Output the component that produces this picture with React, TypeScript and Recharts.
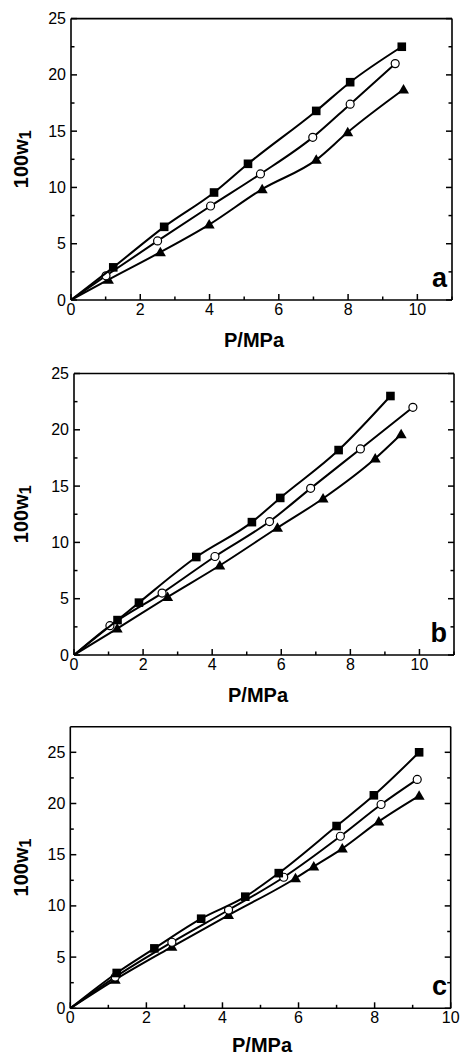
import { ScatterChart, Scatter, XAxis, YAxis } from 'recharts';

const FONT = '"Liberation Sans", Arial, Helvetica, sans-serif';
const INK = '#000';

// panel a
const aSquareP = [0, 1.22, 2.69, 4.13, 5.11, 7.08, 8.06, 9.55];
const aSquareW = [0, 2.9, 6.5, 9.55, 12.1, 16.8, 19.35, 22.5];
const aCircleP = [0, 1.01, 2.5, 4.03, 5.47, 6.98, 8.06, 9.36];
const aCircleW = [0, 2.15, 5.25, 8.35, 11.2, 14.45, 17.4, 21.0];
const aTriP = [0, 1.08, 2.58, 3.99, 5.52, 7.08, 7.99, 9.6];
const aTriW = [0, 1.8, 4.25, 6.7, 9.85, 12.45, 14.9, 18.7];

// panel b
const bSquareP = [0, 1.26, 1.88, 3.54, 5.15, 5.97, 7.66, 9.16];
const bSquareW = [0, 3.1, 4.65, 8.7, 11.8, 13.95, 18.2, 23.0];
const bCircleP = [0, 1.04, 2.55, 4.08, 5.66, 6.85, 8.29, 9.81];
const bCircleW = [0, 2.6, 5.5, 8.75, 11.85, 14.8, 18.3, 22.0];
const bTriP = [0, 1.25, 2.71, 4.22, 5.89, 7.21, 8.72, 9.47];
const bTriW = [0, 2.35, 5.15, 7.95, 11.3, 13.9, 17.45, 19.6];

// panel c
const cSquareP = [0, 1.22, 2.21, 3.44, 4.6, 5.48, 7.0, 7.98, 9.17];
const cSquareW = [0, 3.45, 5.85, 8.75, 10.9, 13.2, 17.8, 20.8, 25.0];
const cCircleP = [0, 1.18, 2.67, 4.16, 5.61, 7.1, 8.17, 9.12];
const cCircleW = [0, 3.05, 6.45, 9.6, 12.8, 16.8, 19.9, 22.35];
const cTriP = [0, 1.18, 2.67, 4.16, 5.92, 6.4, 7.15, 8.11, 9.17];
const cTriW = [0, 2.8, 6.0, 9.1, 12.7, 13.85, 15.6, 18.25, 20.75];

const xTicks11 = [0, 1, 2, 3, 4, 5, 6, 7, 8, 9, 10, 11];
const xTicks10 = [0, 1, 2, 3, 4, 5, 6, 7, 8, 9, 10];
const yTicks = [0, 2.5, 5, 7.5, 10, 12.5, 15, 17.5, 20, 22.5, 25];

type Pt = { p: number; w: number };
const zip = (ps: number[], ws: number[]): Pt[] => ps.map((p, i) => ({ p, w: ws[i] }));

const isMajorX = (v: number) => v % 2 === 0;
const isMajorY = (v: number) => v % 5 === 0;

function BottomTick({ x, y, payload }: any) {
  const v = payload.value;
  const major = isMajorX(v);
  return (
    <g>
      <line x1={x} y1={y} x2={x} y2={y - (major ? 6 : 3.5)} stroke={INK} strokeWidth={1.5} />
      {major && (
        <text x={x} y={y + 15} textAnchor="middle" fontSize={16} fontFamily={FONT} fill={INK}>
          {v}
        </text>
      )}
    </g>
  );
}

function TopTick({ x, y, payload }: any) {
  const len = isMajorX(payload.value) ? 6 : 3.5;
  return <line x1={x} y1={y} x2={x} y2={y + len} stroke={INK} strokeWidth={1.5} />;
}

function LeftTick({ x, y, payload }: any) {
  const v = payload.value;
  const major = isMajorY(v);
  return (
    <g>
      <line x1={x} y1={y} x2={x + (major ? 6 : 3.5)} y2={y} stroke={INK} strokeWidth={1.5} />
      {major && (
        <text x={x - 5} y={y + 5.5} textAnchor="end" fontSize={16} fontFamily={FONT} fill={INK}>
          {v}
        </text>
      )}
    </g>
  );
}

function RightTick({ x, y, payload }: any) {
  const len = isMajorY(payload.value) ? 6 : 3.5;
  return <line x1={x} y1={y} x2={x - len} y2={y} stroke={INK} strokeWidth={1.5} />;
}

function Square({ cx, cy, payload }: any) {
  if (payload?.p === 0) return <g />;
  return <rect x={cx - 4.3} y={cy - 4.3} width={8.6} height={8.6} fill={INK} />;
}

function Circle({ cx, cy, payload }: any) {
  if (payload?.p === 0) return <g />;
  return <circle cx={cx} cy={cy} r={4} fill="#fff" stroke={INK} strokeWidth={1.2} />;
}

function Triangle({ cx, cy, payload }: any) {
  if (payload?.p === 0) return <g />;
  return <polygon points={`${cx},${cy - 5.5} ${cx + 5.5},${cy + 4} ${cx - 5.5},${cy + 4}`} fill={INK} />;
}

interface PanelProps {
  top: number;
  height: number;
  plotTop: number;
  plotBottom: number;
  plotLeft: number;
  plotRight: number;
  xMax: number;
  yMax: number;
  xTicks: number[];
  letter: string;
  labelX: number;
  labelGap: number;
  squares: Pt[];
  circles: Pt[];
  triangles: Pt[];
}

function Panel(props: PanelProps) {
  const { top, height, plotTop, plotBottom, plotLeft, plotRight, xMax, yMax, xTicks, letter, labelX, labelGap } = props;
  const W = 462;
  const axisLine = { stroke: INK, strokeWidth: 1.6 };
  const line = { stroke: INK, strokeWidth: 2 };
  const midY = (plotTop + plotBottom) / 2 - top;
  return (
    <div style={{ position: 'absolute', left: 0, top, width: W, height }}>
      <ScatterChart width={W} height={height} margin={{ top: 0, right: 0, bottom: 0, left: 0 }}>
        <XAxis
          xAxisId="b"
          type="number"
          dataKey="p"
          domain={[0, xMax]}
          ticks={xTicks}
          interval={0}
          height={height - (plotBottom - top)}
          tickSize={0}
          tickMargin={0}
          tickLine={false}
          axisLine={axisLine}
          tick={(p: any) => <BottomTick {...p} />}
          allowDataOverflow
        />
        <XAxis
          xAxisId="t"
          orientation="top"
          type="number"
          domain={[0, xMax]}
          ticks={xTicks}
          interval={0}
          height={plotTop - top}
          tickSize={0}
          tickMargin={0}
          tickLine={false}
          axisLine={axisLine}
          tick={(p: any) => <TopTick {...p} />}
          allowDataOverflow
        />
        <YAxis
          yAxisId="l"
          type="number"
          dataKey="w"
          domain={[0, yMax]}
          ticks={yTicks}
          interval={0}
          width={plotLeft}
          tickSize={0}
          tickMargin={0}
          tickLine={false}
          axisLine={axisLine}
          tick={(p: any) => <LeftTick {...p} />}
          allowDataOverflow
        />
        <YAxis
          yAxisId="r"
          orientation="right"
          type="number"
          domain={[0, yMax]}
          ticks={yTicks}
          interval={0}
          width={W - plotRight}
          tickSize={0}
          tickMargin={0}
          tickLine={false}
          axisLine={axisLine}
          tick={(p: any) => <RightTick {...p} />}
          allowDataOverflow
        />
        <Scatter
          xAxisId="b"
          yAxisId="l"
          data={props.triangles}
          line={line}
          lineType="joint"
          lineJointType="monotoneX"
          shape={(p: any) => <Triangle {...p} />}
          isAnimationActive={false}
        />
        <Scatter
          xAxisId="b"
          yAxisId="l"
          data={props.circles}
          line={line}
          lineType="joint"
          lineJointType="monotoneX"
          shape={(p: any) => <Circle {...p} />}
          isAnimationActive={false}
        />
        <Scatter
          xAxisId="b"
          yAxisId="l"
          data={props.squares}
          line={line}
          lineType="joint"
          lineJointType="monotoneX"
          shape={(p: any) => <Square {...p} />}
          isAnimationActive={false}
        />
        <text
          x={447}
          y={plotBottom - top - 13}
          textAnchor="end"
          fontSize={27}
          fontWeight="bold"
          fontFamily={FONT}
          fill={INK}
        >
          {letter}
        </text>
        <text
          x={labelX}
          y={plotBottom - top + labelGap}
          textAnchor="middle"
          fontSize={20}
          fontWeight="bold"
          fontFamily={FONT}
          fill={INK}
        >
          P/MPa
        </text>
        <text
          x={28}
          y={midY}
          transform={`rotate(-90 28 ${midY})`}
          textAnchor="middle"
          fontSize={20}
          fontWeight="bold"
          fontFamily={FONT}
          fill={INK}
        >
          100w<tspan fontSize={16} dy={3}>1</tspan>
        </text>
      </ScatterChart>
    </div>
  );
}

export default function App() {
  return (
    <div style={{ position: 'absolute', left: 0, top: 0, width: 462, height: 1057, background: '#fff' }}>
      <Panel
        top={0}
        height={355}
        plotTop={18.6}
        plotBottom={300}
        plotLeft={71}
        plotRight={452}
        xMax={11}
        yMax={25}
        xTicks={xTicks11}
        letter="a"
        labelX={254}
        labelGap={47}
        squares={zip(aSquareP, aSquareW)}
        circles={zip(aCircleP, aCircleW)}
        triangles={zip(aTriP, aTriW)}
      />
      <Panel
        top={350}
        height={355}
        plotTop={373.5}
        plotBottom={655}
        plotLeft={74}
        plotRight={454}
        xMax={11}
        yMax={25}
        xTicks={xTicks11}
        letter="b"
        labelX={258}
        labelGap={47}
        squares={zip(bSquareP, bSquareW)}
        circles={zip(bCircleP, bCircleW)}
        triangles={zip(bTriP, bTriW)}
      />
      <Panel
        top={705}
        height={352}
        plotTop={726.7}
        plotBottom={1008.3}
        plotLeft={70.3}
        plotRight={450.7}
        xMax={10}
        yMax={27.5}
        xTicks={xTicks10}
        letter="c"
        labelX={262}
        labelGap={44}
        squares={zip(cSquareP, cSquareW)}
        circles={zip(cCircleP, cCircleW)}
        triangles={zip(cTriP, cTriW)}
      />
    </div>
  );
}
